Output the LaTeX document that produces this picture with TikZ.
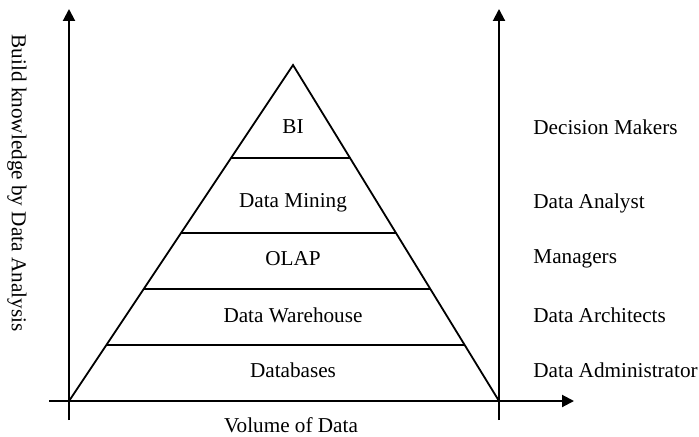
\documentclass[tikz,border=0pt]{standalone}
\usepackage{fontspec}
\setmainfont{Liberation Serif}
\usetikzlibrary{calc}
\usetikzlibrary{arrows.meta}

\begin{document}
\begin{tikzpicture}[x=0.5pt,y=-0.5pt,
  axis/.style={black, line width=1pt, -{Triangle[length=6pt,width=6pt]}},
  layer/.style={black, line width=0.9pt},
  lbl/.style={font=\fontsize{10.6}{12}\selectfont, inner sep=0}]
\useasboundingbox (0,0) rectangle (699,437);
\coordinate (O) at (69,401);
\coordinate (R) at (499,401);
\coordinate (apex) at (293,65);
\coordinate (xstart) at (49,401);
\coordinate (xend) at (574,401);
\coordinate (lbot) at (69,420);
\coordinate (ltop) at (69,9);
\coordinate (rbot) at (499,420);
\coordinate (rtop) at (499,9);
\draw[axis] (xstart)--(xend);
\draw[axis] (lbot)--(ltop);
\draw[axis] (rbot)--(rtop);
\draw[layer, line join=miter] (O)--(apex)--(R);
\foreach \f in {0.1667,0.3333,0.5,0.7232} {
 \draw[layer] ($(O)!\f!(apex)$)--($(R)!\f!(apex)$);
}
\foreach \y/\t/\r [count=\i] in {127/BI/Decision Makers, 203/Data Mining/Data Analyst,
  259/OLAP/Managers, 315/Data Warehouse/Data Architects, 370/Databases/Data Administrator} {
 \node[lbl] (layer\i) at (293,\y) {\t};
 \node[lbl, anchor=west] (role\i) at (533,\y) {\r};
}
\node[lbl] (xlabel) at (291,425) {Volume of Data};
\node[lbl, rotate=-90] (ylabel) at (17,183) {Build knowledge by Data Analysis};
\end{tikzpicture}
\end{document}
